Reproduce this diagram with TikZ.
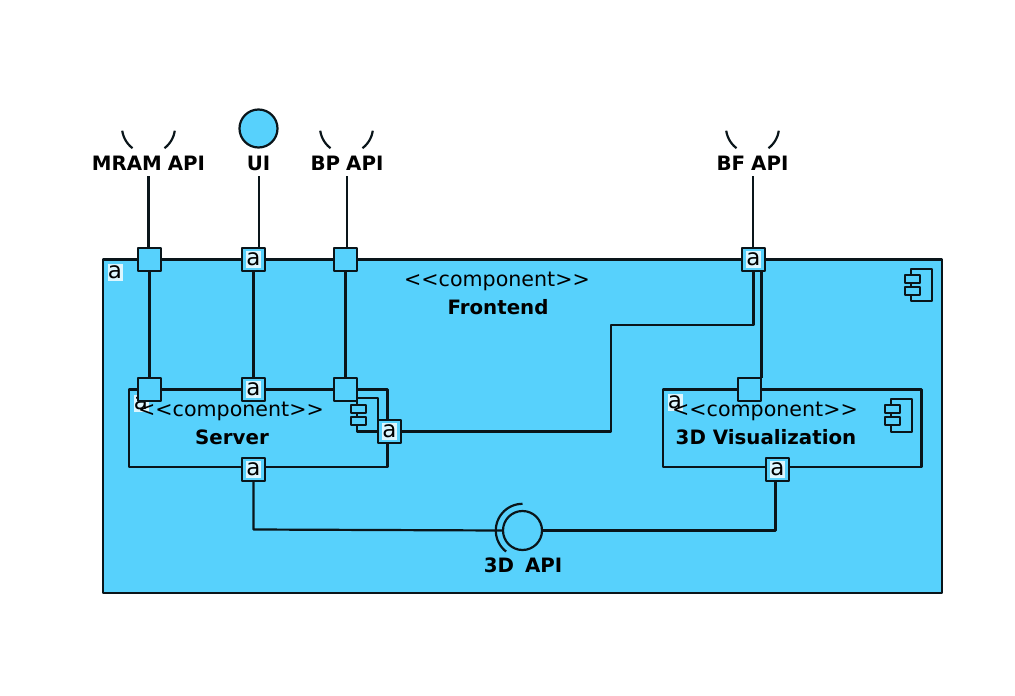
\documentclass[tikz,border=0pt]{standalone}
\usepackage{fontspec}
\setmainfont[Ligatures=NoCommon]{DejaVu Sans}
\usetikzlibrary{calc}
\definecolor{umlblue}{HTML}{57D1FC}
\definecolor{inkc}{HTML}{0A151A}
\tikzset{
  ln/.style={draw=inkc,line width=2.2pt,line join=round},
  body/.style={ln,fill=umlblue},
  portbox/.style={ln,fill=umlblue,minimum size=23.5pt,inner sep=0pt,outer sep=0pt},
  aicon/.style={fill=white!80!umlblue,inner sep=0pt,minimum width=15pt,minimum height=17pt,text=black,font=\fontsize{23}{23}\selectfont},
  stereo/.style={font=\fontsize{20.6}{22}\selectfont,text=black,inner sep=0pt},
  compname/.style={font=\fontsize{19.8}{22}\bfseries\selectfont,text=black,inner sep=0pt},
  apilabel/.style={font=\fontsize{19.8}{22}\bfseries\selectfont,text=black,inner sep=0pt,fill=white,minimum height=26pt,text height=15pt,text depth=0pt},
  socket/.style={ln,fill=none},
}
\newcommand{\stereotext}{{<}{<}component{>}{>}}
\begin{document}
\begin{tikzpicture}[x=1pt,y=-1pt]
\useasboundingbox (0,0) rectangle (1015,696);
% Frontend
\draw[body] (103,259.5) rectangle (942,593);
\node[aicon] (aFront) at (115,272) {a};
% Frontend icon
\draw[ln] (911,269) rectangle (932,301);
\draw[ln,fill=umlblue] (905,275) rectangle (920,283);
\draw[ln,fill=umlblue] (905,287) rectangle (920,295);
\node[stereo] (stFront) at (497,281) {\stereotext};
\node[compname] (nmFront) at (498,307) {Frontend};

% Server
\draw[ln] (129,389.5) rectangle (387.5,467);
\node[aicon] (aServer) at (141,403) {a};
\node[stereo] (stServer) at (231,411) {\stereotext};
\node[compname] (nmServer) at (232,437) {Server};

% 3D Visualization
\draw[ln] (663,389.5) rectangle (921.5,467);
\node[aicon] (aVis) at (675,402) {a};
\node[stereo] (stVis) at (765,411) {\stereotext};
\node[compname] (nmVis) at (766,437) {3D Visualization};
\draw[ln] (891,399) rectangle (912,432);
\draw[ln,fill=umlblue] (885,405) rectangle (900,413);
\draw[ln,fill=umlblue] (885,417) rectangle (900,425);

% API sockets and UI ball
\foreach \cx/\cy in {148.5/127,346.5/127,752.5/127}{
  \draw[socket] plot[domain=172:127,samples=16] ({\cx+26.5*cos(\x)},{\cy+26.5*sin(\x)});
  \draw[socket] plot[domain=8:53,samples=16] ({\cx+26.5*cos(\x)},{\cy+26.5*sin(\x)});
}
\node[circle,ln,fill=umlblue,minimum size=38pt,inner sep=0pt] (ball) at (258.5,128.5) {};
\node[apilabel] (lMram) at (148.5,163) {MRAM\hspace{6pt}API};
\node[apilabel] (lUi) at (258.5,163) {UI};
\node[apilabel] (lBp) at (347,163) {BP\hspace{6pt}API};
\node[apilabel] (lBf) at (752.5,163) {BF\hspace{6pt}API};

% Ports
\node[portbox] (pMram) at (149.5,259.5) {};
\node[portbox] (pUi) at (253.5,259.5) {};
\node[portbox] (pBp) at (345.5,259.5) {};
\node[portbox] (pBf) at (753.5,259.5) {};
\node[portbox] (sMram) at (149.5,389.5) {};
\node[portbox] (sUi) at (253.5,389.5) {};
\node[portbox] (sBp) at (345.5,389.5) {};
\node[portbox] (sRight) at (389.5,431.5) {};
\node[portbox] (sBottom) at (253.5,469.5) {};
\node[portbox] (vTop) at (749.5,389.5) {};
\node[portbox] (vBottom) at (777.5,469.5) {};
\foreach \p in {pUi,pBf,sUi,sRight,sBottom,vBottom}{
  \node[aicon] at (\p) {a};
}

% Provided interface
\node[circle,ln,fill=umlblue,minimum size=39pt,inner sep=0pt] (iface) at (522.5,530.5) {};
\draw[socket] plot[domain=270:128,samples=24] ({522.5+26.7*cos(\x)},{530.5+26.7*sin(\x)});
\node[compname,minimum height=24pt] (l3d) at (523,565) {3D\hspace{11pt}API};

% Connectors
\draw[ln] (lMram.south) -- (lMram.south |- pMram.north);
\draw[ln] ([xshift=5.5pt]pUi.north) -- ([xshift=5.5pt]pUi.north |- lUi.south);
\draw[ln] ([xshift=1.5pt]pBp.north) -- ([xshift=1.5pt]pBp.north |- lBp.south);
\draw[ln] ([xshift=-0.5pt]pBf.north) -- ([xshift=-0.5pt]pBf.north |- lBf.south);
\draw[ln] (pMram.south) -- (sMram.north);
\draw[ln] (pUi.south) -- (sUi.north);
\draw[ln] (pBp.south) -- (sBp.north);
\draw[ln] ([xshift=8pt]pBf.south) -- ([xshift=8pt]pBf.south |- vTop.north);
\coordinate (bfDown) at (753.5,325);
\coordinate (bfLeft) at (611,325);
\coordinate (bfLow) at (611,431.5);
\draw[ln] (pBf.south) -- (bfDown) -- (bfLeft) -- (bfLow) -- (sRight.east);
\coordinate (srvCorner) at (253.5,529.5);
\draw[ln] (sBottom.south) -- (srvCorner) -- (iface.west);
\coordinate (visCorner) at (775.5,530.5);
\draw[ln] ([xshift=-2pt]vBottom.south) -- (visCorner) -- (iface.east);

% Server inner wiring and icon
\coordinate (innerA) at (378,398);
\draw[ln] (sBp.east |- innerA) -- (innerA) -- (innerA |- sRight.north);
\coordinate (innerB) at (357,431.5);
\draw[ln] (innerB |- sBp.south) -- (innerB) -- (sRight.west);
\draw[ln,fill=umlblue] (351,405) rectangle (366,413);
\draw[ln,fill=umlblue] (351,417) rectangle (366,425);
\end{tikzpicture}
\end{document}
